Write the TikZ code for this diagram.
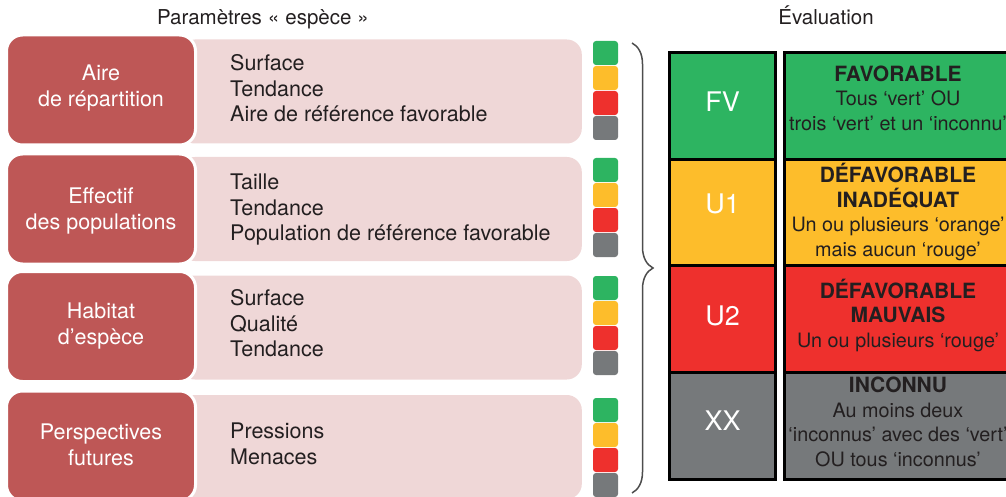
\documentclass[tikz,border=0pt]{standalone}
\usepackage{fontspec}
\setmainfont{TeX Gyre Heros}
\usetikzlibrary{decorations.pathreplacing}
\definecolor{boxred}{HTML}{BE5756}
\definecolor{boxpink}{HTML}{EFD7D7}
\definecolor{sgreen}{HTML}{2DB461}
\definecolor{sorange}{HTML}{FDBD2B}
\definecolor{sred}{HTML}{EE302D}
\definecolor{sgray}{HTML}{76797B}
\definecolor{ink}{HTML}{231F20}
\definecolor{bracegray}{HTML}{4D4D4D}
\begin{document}
\begin{tikzpicture}[x=1pt,y=-1pt,
  redbox/.style={fill=boxred, draw=white, line width=3pt, rounded corners=16pt,
    minimum width=189pt, minimum height=110pt, inner sep=0pt},
  pinkbox/.style={fill=boxpink, rounded corners=15pt, minimum width=402pt,
    minimum height=104pt, anchor=east, inner sep=0pt},
  redlabel/.style={text=white, align=center, inner sep=0pt, font=\fontsize{21.5}{26}\selectfont},
  pinklabel/.style={text=ink, align=left, anchor=west, inner sep=0pt, font=\fontsize{21.5}{25.5}\selectfont},
  sq/.style={minimum width=25pt, minimum height=24pt, rounded corners=3pt, inner sep=0pt},
  cell/.style={draw=black, line width=3pt, inner sep=0pt, minimum height=106.6pt},
  codecell/.style={cell, minimum width=106pt},
  desccell/.style={cell, minimum width=227pt},
  codelabel/.style={text=white, inner sep=0pt, font=\fontsize{27}{30}\selectfont},
  desclabel/.style={text=ink, align=center, inner sep=0pt, font=\fontsize{19.8}{24.5}\selectfont},
  titlelabel/.style={text=ink, anchor=base, inner sep=0pt, font=\fontsize{20.5}{24}\selectfont},
  bracestyle/.style={draw=bracegray, line width=1.5pt, decorate,
    decoration={brace, amplitude=21pt}}
]
\useasboundingbox (0,0) rectangle (1006,497);
\clip (0,0) rectangle (1006,497);

% titles
\node[titlelabel] (title1) at (263,25) {Paramètres\hspace{6pt}«\hspace{6pt}espèce\hspace{6pt}»};
\node[titlelabel] (title2) at (826,25) {Évaluation};

% pink parameter boxes
\node[pinkbox] (p1) at (582,91.5) {};
\node[pinkbox] (p2) at (582,209) {};
\node[pinkbox] (p3) at (582,327.5) {};
\node[pinkbox] (p4) at (582,447) {};

% red category boxes
\node[redbox] (r1) at (101,90) {};
\node[redbox] (r2) at (101,209) {};
\node[redbox] (r3) at (101,326.5) {};
\node[redbox] (r4) at (101,446) {};

\node[redlabel] (rl1) at (101,88) {Aire\\de répartition};
\node[redlabel] (rl2) at (101,210.5) {Effectif\\des populations};
\node[redlabel] (rl3) at (101,326.5) {Habitat\\d’espèce};
\node[redlabel] (rl4) at (101,444.5) {Perspectives\\futures};

\node[pinklabel] (pl1) at (230,88.5) {Surface\\Tendance\\Aire de référence favorable};
\node[pinklabel] (pl2) at (230,210) {Taille\\Tendance\\Population de référence favorable};
\node[pinklabel] (pl3) at (230,323.5) {Surface\\Qualité\\Tendance};
\node[pinklabel] (pl4) at (230,444) {Pressions\\Menaces};

% colour squares
\foreach \r/\y in {1/41,2/158,3/276,4/398}{
  \foreach \c [count=\i] in {sgreen,sorange,sred,sgray}{
    \node[sq, fill=\c] (sq-\r-\i) at (605.5,{\y+12+25*(\i-1)}) {};
  }
}

% brace
\coordinate (bt) at (632,43);
\coordinate (bb) at (632,493);
\draw[bracestyle] (bt) -- (bb);

% evaluation table
\node[codecell, fill=sgreen]  (c1) at (722.5,105.75) {};
\node[codecell, fill=sorange] (c2) at (722.5,212.5) {};
\node[codecell, fill=sred]    (c3) at (722.5,319.25) {};
\node[codecell, fill=sgray]   (c4) at (722.5,425.75) {};

\node[desccell, fill=sgreen]  (d1) at (898,105.75) {};
\node[desccell, fill=sorange] (d2) at (898,212.5) {};
\node[desccell, fill=sred]    (d3) at (898,319.25) {};
\node[desccell, fill=sgray]   (d4) at (898,425.75) {};

\node[codelabel] (cl1) at (722.5,102) {FV};
\node[codelabel] (cl2) at (722.5,204) {U1};
\node[codelabel] (cl3) at (722.5,316) {U2};
\node[codelabel] (cl4) at (722.5,421) {XX};

\node[desclabel] (dl1) at (898,98) {{\fontsize{21}{24.5}\selectfont\bfseries FAVORABLE}\\Tous ‘vert’ OU\\trois ‘vert’ et un ‘inconnu’};
\node[desclabel] (dl2) at (898,212) {{\fontsize{21}{24.5}\selectfont\bfseries DÉFAVORABLE}\\{\fontsize{21}{24.5}\selectfont\bfseries INADÉQUAT}\\Un ou plusieurs ‘orange’\\mais aucun ‘rouge’};
\node[desclabel] (dl3) at (898,315) {{\fontsize{21}{24.5}\selectfont\bfseries DÉFAVORABLE}\\{\fontsize{21}{24.5}\selectfont\bfseries MAUVAIS}\\Un ou plusieurs ‘rouge’};
\node[desclabel] (dl4) at (898,422) {{\fontsize{21}{24.5}\selectfont\bfseries INCONNU}\\Au moins deux\\‘inconnus’ avec des ‘vert’\\OU tous ‘inconnus’};
\end{tikzpicture}
\end{document}
